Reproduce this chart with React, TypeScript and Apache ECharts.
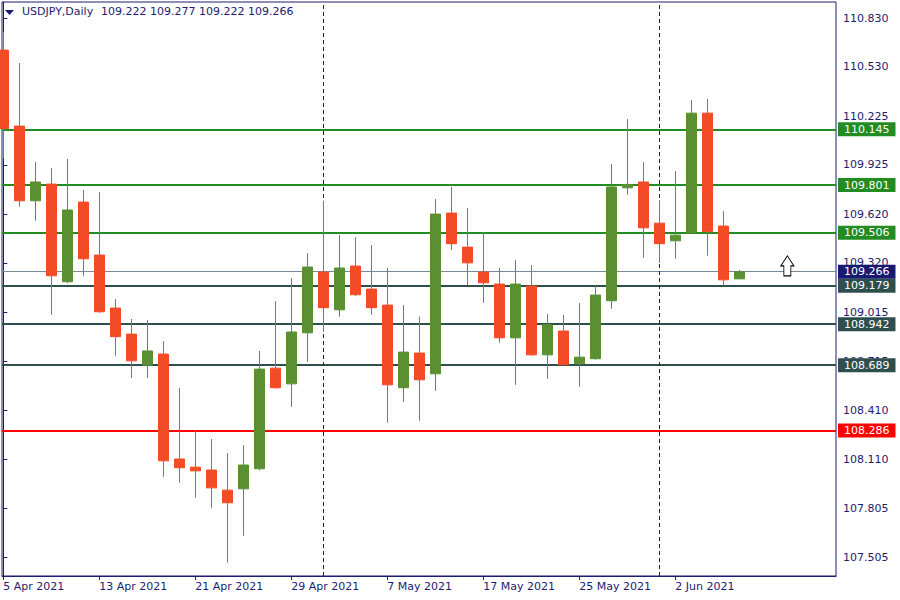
import React, { useEffect, useRef } from 'react';
import * as echarts from 'echarts';

const dates = [
  '5 Apr 2021', '6 Apr 2021', '7 Apr 2021', '8 Apr 2021', '9 Apr 2021',
  '12 Apr 2021', '13 Apr 2021', '14 Apr 2021', '15 Apr 2021', '16 Apr 2021',
  '19 Apr 2021', '20 Apr 2021', '21 Apr 2021', '22 Apr 2021', '23 Apr 2021',
  '26 Apr 2021', '27 Apr 2021', '28 Apr 2021', '29 Apr 2021', '30 Apr 2021',
  '3 May 2021', '4 May 2021', '5 May 2021', '6 May 2021', '7 May 2021',
  '10 May 2021', '11 May 2021', '12 May 2021', '13 May 2021', '14 May 2021',
  '17 May 2021', '18 May 2021', '19 May 2021', '20 May 2021', '21 May 2021',
  '24 May 2021', '25 May 2021', '26 May 2021', '27 May 2021', '28 May 2021',
  '31 May 2021', '1 Jun 2021', '2 Jun 2021', '3 Jun 2021', '4 Jun 2021',
  '7 Jun 2021', '8 Jun 2021',
];

const opens = [
  110.634, 110.165, 109.704, 109.807, 109.204, 109.696, 109.369, 109.042, 108.881, 108.690,
  108.758, 108.110, 108.060, 108.042, 107.918, 107.926, 108.050, 108.671, 108.574, 108.889,
  109.264, 109.031, 109.301, 109.159, 109.060, 108.550, 108.764, 108.636, 109.628, 109.418,
  109.264, 109.190, 108.858, 109.178, 108.753, 108.900, 108.698, 108.729, 109.087, 109.784,
  109.820, 109.566, 109.457, 109.507, 110.245, 109.548, 109.222,
];
const highs = [
  110.745, 110.554, 109.943, 109.906, 109.962, 109.770, 109.758, 109.097, 108.974, 108.968,
  108.838, 108.548, 108.289, 108.233, 108.147, 108.196, 108.777, 109.085, 109.227, 109.381,
  109.704, 109.492, 109.480, 109.431, 109.289, 109.060, 108.988, 109.715, 109.789, 109.659,
  109.511, 109.289, 109.338, 109.307, 109.005, 108.999, 109.073, 109.178, 109.931, 110.208,
  109.943, 109.708, 109.887, 110.326, 110.332, 109.640, 109.277,
];
const lows = [
  109.966, 109.667, 109.581, 109.000, 109.195, 109.241, 109.013, 108.747, 108.611, 108.611,
  108.000, 107.963, 107.871, 107.809, 107.470, 107.636, 108.040, 108.544, 108.432, 108.710,
  108.895, 108.988, 109.115, 109.000, 108.334, 108.463, 108.346, 108.531, 109.400, 109.184,
  109.074, 108.828, 108.568, 108.747, 108.605, 108.690, 108.556, 108.723, 109.037, 109.741,
  109.352, 109.321, 109.346, 109.500, 109.365, 109.179, 109.222,
];
const closes = [
  110.149, 109.704, 109.820, 109.241, 109.647, 109.346, 109.019, 108.865, 108.716, 108.777,
  108.099, 108.056, 108.037, 107.932, 107.840, 108.073, 108.665, 108.550, 108.894, 109.295,
  109.044, 109.289, 109.124, 109.044, 108.568, 108.770, 108.599, 109.622, 109.439, 109.321,
  109.198, 108.858, 109.190, 108.753, 108.939, 108.692, 108.739, 109.122, 109.789, 109.805,
  109.537, 109.439, 109.492, 110.245, 109.513, 109.216, 109.266,
];

const dateTickIdx = [0, 6, 12, 18, 24, 30, 36, 42];
const monthSeparators = [20, 41];
const priceTicks = [107.505, 107.805, 108.110, 108.410, 108.715, 109.015, 109.320, 109.620, 109.925, 110.225, 110.530, 110.830];

const levelValues = [110.145, 109.801, 109.506, 109.179, 108.942, 108.689, 108.286];
const levelColors = ['#228B22', '#228B22', '#228B22', '#2F4F4F', '#2F4F4F', '#2F4F4F', '#FF0000'];
const bidPrice = 109.266;
const arrowPoint = [49, 109.302];

const headerSymbol = 'USDJPY,Daily';
const headerValues = '109.222 109.277 109.222 109.266';

const NAVY = '#1c1c70';
const FONT = 'DejaVu Sans';
const BULL = '#5A9032';
const BEAR = '#F24B26';

export default function App() {
  const ref = useRef<HTMLDivElement>(null);
  useEffect(() => {
    document.body.style.margin = '0';
    const chart = echarts.init(ref.current as HTMLDivElement, undefined, { renderer: 'svg' });
    const data = opens.map((o, i) => [i, o, closes[i], lows[i], highs[i]]);
    const boxLabel = (color: string, value: number) => ({
      show: true,
      position: 'end',
      distance: 2,
      formatter: () => value.toFixed(3),
      color: '#ffffff',
      backgroundColor: color,
      padding: [1, 6, 0, 6],
      lineHeight: 13,
      fontSize: 11,
      fontFamily: FONT,
    });
    const markData: any[] = [];
    levelValues.forEach((v, i) => {
      markData.push({
        yAxis: v,
        lineStyle: { color: levelColors[i], width: 2, type: 'solid' },
        label: boxLabel(levelColors[i], v),
      });
    });
    markData.push({
      yAxis: bidPrice,
      lineStyle: { color: '#778899', width: 1, type: 'solid' },
      label: boxLabel('#191970', bidPrice),
    });
    monthSeparators.forEach((x) => {
      markData.push({
        xAxis: x,
        lineStyle: { color: '#1a1a6e', width: 1, type: [4, 3] },
        label: { show: false },
      });
    });

    const option: any = {
      animation: false,
      backgroundColor: '#ffffff',
      textStyle: { fontFamily: FONT },
      grid: {
        left: 2, top: 2, right: 64, bottom: 24,
        show: true, borderColor: NAVY, borderWidth: 1, backgroundColor: '#ffffff',
      },
      xAxis: {
        type: 'value',
        min: -0.08,
        max: 52.04,
        splitLine: { show: false },
        axisLine: { show: true, lineStyle: { color: NAVY, width: 1 } },
        axisTick: { show: true, length: 4, customValues: dateTickIdx, lineStyle: { color: NAVY } },
        axisLabel: {
          customValues: dateTickIdx,
          formatter: (v: number) => dates[Math.round(v)] ?? '',
          align: 'left',
          margin: 5,
          color: NAVY,
          fontSize: 11,
          fontFamily: FONT,
        },
      },
      yAxis: {
        type: 'value',
        position: 'right',
        min: 107.388,
        max: 110.931,
        scale: true,
        splitLine: { show: false },
        axisLine: { show: true, lineStyle: { color: NAVY, width: 1 } },
        axisTick: { show: true, length: 4, customValues: priceTicks, lineStyle: { color: NAVY } },
        axisLabel: {
          customValues: priceTicks,
          formatter: (v: number) => v.toFixed(3),
          margin: 7,
          color: NAVY,
          fontSize: 11,
          fontFamily: FONT,
        },
      },
      series: [
        {
          type: 'candlestick',
          data,
          encode: { x: 0, y: [1, 2, 3, 4] },
          barWidth: 10,
          clip: true,
          z: 3,
          itemStyle: {
            color: BULL, color0: BEAR, borderColor: BULL, borderColor0: BEAR, borderWidth: 1,
          },
          markLine: {
            silent: true,
            symbol: ['none', 'none'],
            precision: 3,
            z: 1,
            animation: false,
            data: markData,
          },
          markPoint: {
            silent: true,
            z: 4,
            symbol: 'path://M6.5,0 L13,10 L10,10 L10,20 L3,20 L3,10 L0,10 Z',
            symbolSize: [13, 20],
            itemStyle: { color: '#ffffff', borderColor: '#000000', borderWidth: 1 },
            label: { show: false },
            data: [{ coord: arrowPoint }],
          },
        },
      ],
      graphic: [
        {
          type: 'polygon',
          shape: { points: [[5, 10], [14, 10], [9.5, 15]] },
          style: { fill: '#1a1a6e' },
          z: 10,
        },
        {
          type: 'text',
          left: 22,
          top: 6,
          z: 10,
          style: { text: headerSymbol, fill: NAVY, font: `11px "${FONT}"` },
        },
        {
          type: 'text',
          left: 101,
          top: 6,
          z: 10,
          style: { text: headerValues, fill: NAVY, font: `11px "${FONT}"` },
        },
      ],
    };
    chart.setOption(option);
    return () => chart.dispose();
  }, []);
  return <div ref={ref} style={{ width: 900, height: 600 }} />;
}
